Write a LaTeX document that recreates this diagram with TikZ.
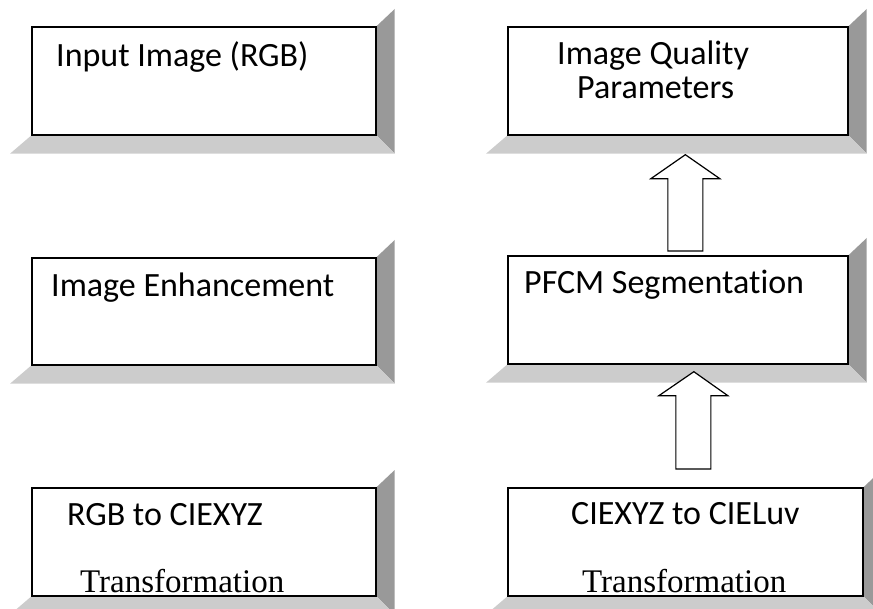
\documentclass[tikz,border=0pt]{standalone}
\usepackage{fontspec}
\setmainfont{Liberation Serif}
\newfontfamily\boxsans[Ligatures=NoCommon]{Carlito}
\usetikzlibrary{calc,backgrounds}

\definecolor{facedark}{HTML}{999999}
\definecolor{facelight}{HTML}{CCCCCC}

\tikzset{
  stepbox/.style={draw=black, line width=1.7pt, fill=white, rectangle,
    inner sep=0pt, anchor=north west},
  sanslabel/.style={inner sep=0pt, anchor=base west,
    font=\boxsans\fontsize{34}{35}\selectfont},
  seriflabel/.style={inner sep=0pt, anchor=base west,
    font=\rmfamily\fontsize{33}{34}\selectfont},
  blockarrow/.style={draw=black, line width=1.2pt, fill=white, line join=miter},
}

% raised look: dark face on the right, light face underneath
\newcommand{\bevelfaces}[1]{%
  \fill[facedark] (#1.north east) -- ++(18pt,17pt)
    -- ($(#1.south east)+(18pt,-18pt)$) -- (#1.south east) -- cycle;
  \fill[facelight] (#1.south west) -- (#1.south east)
    -- ($(#1.south east)+(18pt,-18pt)$)
    -- ($(#1.south west)+(-21pt,-18pt)$) -- cycle;
}

% hollow upward block arrow from #1 (tail) to #2 (tip)
\newcommand{\blockarrowup}[2]{%
  \draw[blockarrow] let \p1=(#1), \p2=(#2) in
    (\x1-17.5pt,\y1) -- (\x1-17.5pt,\y2-24pt) -- (\x1-34.5pt,\y2-24pt)
    -- (\x2,\y2) -- (\x1+34.5pt,\y2-24pt) -- (\x1+17.5pt,\y2-24pt)
    -- (\x1+17.5pt,\y1) -- cycle;
}

\begin{document}
\begin{tikzpicture}[x=1pt,y=-1pt]
  \useasboundingbox (0,0) rectangle (873,609);
  \clip (0,0) rectangle (873,609);

  % process boxes
  \node[stepbox, minimum width=344pt, minimum height=108pt] (inp)  at (31,26)  {};
  \node[stepbox, minimum width=340pt, minimum height=108pt] (iqp)  at (507,26) {};
  \node[stepbox, minimum width=344pt, minimum height=107pt] (enh)  at (31,257) {};
  \node[stepbox, minimum width=340pt, minimum height=108pt] (pfcm) at (507,255) {};
  \node[stepbox, minimum width=344pt, minimum height=108pt] (rgbx) at (31,487) {};
  \node[stepbox, minimum width=355pt, minimum height=108pt] (xluv) at (507,487) {};

  \begin{scope}[on background layer]
    \bevelfaces{inp}
    \bevelfaces{iqp}
    \bevelfaces{enh}
    \bevelfaces{pfcm}
    \bevelfaces{rgbx}
    \bevelfaces{xluv}
  \end{scope}

  % box texts
  \node[sanslabel]  (tinp)  at (56,67)   {Input Image (RGB)};
  \node[sanslabel]  (tiqp1) at (557,65)  {Image Quality};
  \node[sanslabel]  (tiqp2) at (577,99)  {Parameters};
  \node[sanslabel]  (tenh)  at (51,297)  {Image Enhancement};
  \node[sanslabel]  (tpfcm) at (524,294) {PFCM Segmentation};
  \node[sanslabel]  (trgb)  at (67,525)  {RGB to CIEXYZ};
  \node[seriflabel] (trgb2) at (80,592)  {Transformation};
  \node[sanslabel]  (tluv)  at (571,524) {CIEXYZ to CIELuv};
  \node[seriflabel] (tluv2) at (582,592) {Transformation};

  % flow arrows
  \coordinate (a1tail) at ($(pfcm.north)+(7.5,-4)$);
  \coordinate (a1tip)  at ($(iqp.south)+(7.5,19)$);
  \coordinate (a2tail) at ($(xluv.north)+(8,-18)$);
  \coordinate (a2tip)  at ($(pfcm.south)+(16,7)$);
  \blockarrowup{a1tail}{a1tip}
  \blockarrowup{a2tail}{a2tip}
\end{tikzpicture}
\end{document}
